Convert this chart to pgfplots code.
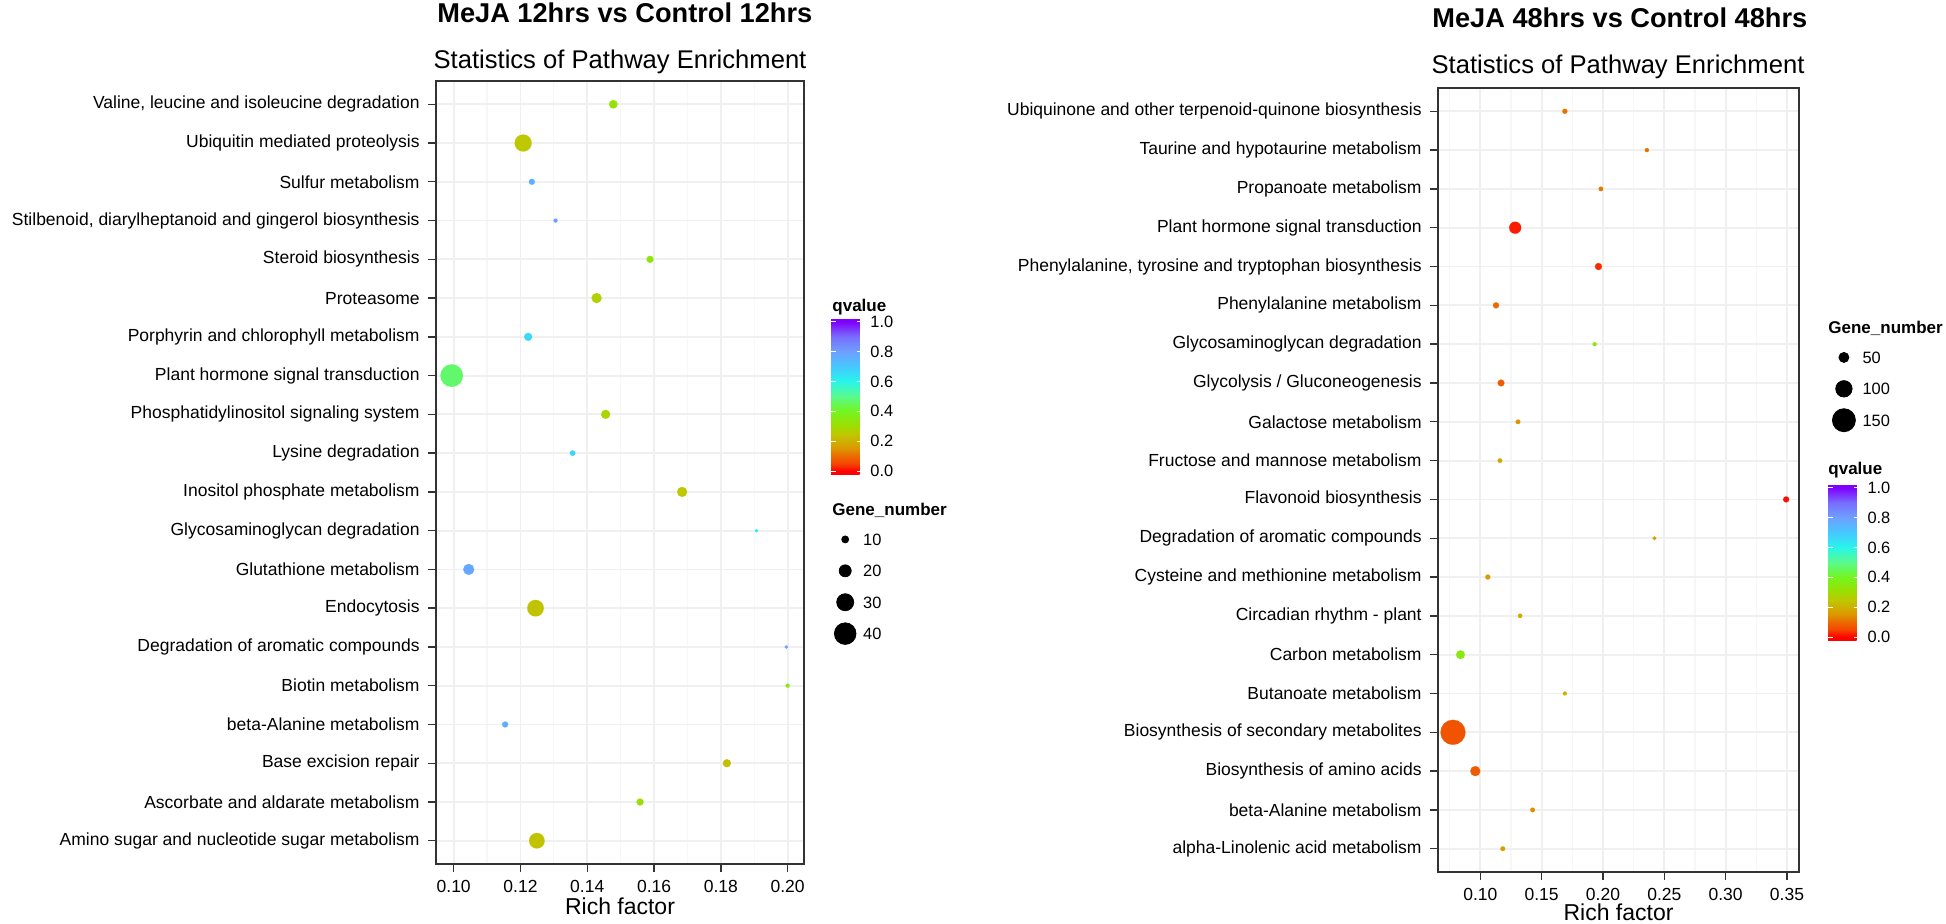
\documentclass[border=0pt]{standalone}
\usepackage{fontspec}
\setmainfont{Liberation Sans}
\usepackage{pgfplots}
\usepackage{pgfplotstable}
\pgfplotsset{compat=1.18}

% positions are qvalue*1000+20, so that the bar runs a little past 0 and 1
\pgfplotsset{
  colormap={qv}{rgb255(0pt)=(255,0,0) rgb255(20pt)=(255,0,0) rgb255(70pt)=(245,70,0)
    rgb255(120pt)=(235,105,0) rgb255(170pt)=(220,150,0) rgb255(220pt)=(205,175,0)
    rgb255(270pt)=(190,200,0) rgb255(320pt)=(160,220,0) rgb255(420pt)=(115,245,30)
    rgb255(520pt)=(90,250,140) rgb255(620pt)=(40,245,235) rgb255(720pt)=(70,200,255)
    rgb255(820pt)=(110,160,255) rgb255(920pt)=(120,110,255) rgb255(1020pt)=(128,0,255)
    rgb255(1045pt)=(128,0,255)},
  kegg/.style={
    scale only axis, anchor=south west, y dir=reverse,
    ymin=-0.6, ymax=19.6, ytick={0,...,19},
    axis line style={draw=black!80, line width=0.8pt},
    tick align=outside, major tick length=4pt, minor tick length=0pt,
    tick style={black!80, line width=0.7pt},
    xtick pos=bottom, ytick pos=left,
    xmajorgrids, ymajorgrids, xminorgrids,
    major grid style={black!6, line width=0.9pt},
    minor grid style={black!3, line width=0.6pt},
    ticklabel style={font=\fontsize{8.75}{10}\selectfont, black},
    yticklabel style={inner sep=0pt, xshift=-4pt},
    xticklabel style={inner sep=0pt, yshift=-4pt},
    xlabel={Rich factor},
    xlabel style={font=\fontsize{11.5}{13}\selectfont, at={(axis description cs:0.5,0)}, anchor=base},
    colormap name=qv, point meta min=-0.02, point meta max=1.025,
    colorbar,
    colorbar style={
      at={(parent axis.north east)}, anchor=north west,
      scale only axis, width=15.5pt, height=78pt, y dir=normal,
      axis line style={draw=none}, xmajorgrids=false, ymajorgrids=false, xminorgrids=false,
      xtick=\empty, minor xtick={}, ytick={0,0.2,0.4,0.6,0.8,1},
      yticklabels={0.0,0.2,0.4,0.6,0.8,1.0},
      ytick pos=both, yticklabel pos=right, tick align=inside,
      major tick length=2.5pt, tick style={white, line width=0.5pt},
      yticklabel style={font=\fontsize{8.2}{9}\selectfont, inner sep=0pt, xshift=4pt, anchor=west},
      xlabel={},
    },
    legend cell align=left,
    legend style={draw=none, fill=none, inner sep=0pt, at={(1,1)}, anchor=north west,
      row sep=3.7pt, column sep=3.6pt, font=\fontsize{8.2}{9}\selectfont,
      nodes={inner sep=0pt, text height=6pt, text depth=0pt, minimum height=12pt},
      cells={anchor=west}},
  },
  dots/.style={scatter, only marks, mark=*, forget plot, scatter src=explicit,
    mark options={line width=0.05pt},
    scatter/use mapped color={draw=mapped color, fill=mapped color},
    visualization depends on={\thisrow{n} \as \gn}},
}

% row 0 is the top category
\pgfplotstableread{
row rf q n
0 0.1478 0.32 13
1 0.1208 0.25 30
2 0.1234 0.76 8
3 0.1305 0.80 4
4 0.1588 0.34 10
5 0.1428 0.27 16
6 0.1223 0.66 12
7 0.0994 0.47 41
8 0.1455 0.28 14
9 0.1356 0.67 7
10 0.1684 0.25 16
11 0.1907 0.62 3
12 0.1045 0.78 18
13 0.1245 0.24 29
14 0.1996 0.80 3
15 0.2000 0.35 4
16 0.1154 0.77 8
17 0.1818 0.23 12
18 0.1558 0.31 10
19 0.1249 0.24 27
}\leftdata

\pgfplotstableread{
row rf q n
0 0.1689 0.11 12
1 0.2358 0.11 5
2 0.1983 0.12 8
3 0.1284 0.02 65
4 0.1963 0.03 27
5 0.1128 0.10 20
6 0.1932 0.34 4
7 0.1169 0.08 25
8 0.1307 0.15 9
9 0.1160 0.19 9
10 0.3493 0.01 19
11 0.2419 0.17 2
12 0.1061 0.16 12
13 0.1324 0.19 7
14 0.0838 0.35 40
15 0.1689 0.21 4
16 0.0777 0.07 165
17 0.0959 0.08 50
18 0.1426 0.14 9
19 0.1183 0.17 10
}\rightdata

\begin{document}
\begin{tikzpicture}
\useasboundingbox (0,0) rectangle (973pt,461.5pt);

\begin{axis}[kegg,
  at={(218pt,29.5pt)}, width=184pt, height=391.5pt,
  xmin=0.0947, xmax=0.2049,
  xtick={0.10,0.12,0.14,0.16,0.18,0.20},
  xticklabels={0.10,0.12,0.14,0.16,0.18,0.20},
  minor xtick={0.11,0.13,0.15,0.17,0.19},
  xlabel style={yshift=-25pt},
  yticklabels={{Valine, leucine and isoleucine degradation},
    {Ubiquitin mediated proteolysis}, {Sulfur metabolism},
    {Stilbenoid, diarylheptanoid and gingerol biosynthesis},
    {Steroid biosynthesis}, {Proteasome}, {Porphyrin and chlorophyll metabolism},
    {Plant hormone signal transduction}, {Phosphatidylinositol signaling system},
    {Lysine degradation}, {Inositol phosphate metabolism},
    {Glycosaminoglycan degradation}, {Glutathione metabolism}, {Endocytosis},
    {Degradation of aromatic compounds}, {Biotin metabolism},
    {beta-Alanine metabolism}, {Base excision repair},
    {Ascorbate and aldarate metabolism}, {Amino sugar and nucleotide sugar metabolism}},
  colorbar style={xshift=5pt, yshift=-118.5pt},
  legend style={xshift=15pt, yshift=-223pt},
]
\addplot[dots, scatter/@pre marker code/.append style={/tikz/mark size={(0.5+0.125*\gn)*1pt}}]
  table[x=rf, y=row, meta=q] {\leftdata};
\addlegendimage{only marks, mark=*, black, mark size=1.75pt}
\addlegendentry{10}
\addlegendimage{only marks, mark=*, black, mark size=3pt}
\addlegendentry{20}
\addlegendimage{only marks, mark=*, black, mark size=4.25pt}
\addlegendentry{30}
\addlegendimage{only marks, mark=*, black, mark size=5.4pt}
\addlegendentry{40}
\end{axis}

\begin{axis}[kegg,
  at={(719pt,25.5pt)}, width=180.5pt, height=392pt,
  xmin=0.0655, xmax=0.3598,
  xtick={0.10,0.15,0.20,0.25,0.30,0.35},
  xticklabels={0.10,0.15,0.20,0.25,0.30,0.35},
  minor xtick={0.075,0.125,0.175,0.225,0.275,0.325},
  xlabel style={yshift=-24pt},
  yticklabels={{Ubiquinone and other terpenoid-quinone biosynthesis},
    {Taurine and hypotaurine metabolism}, {Propanoate metabolism},
    {Plant hormone signal transduction},
    {Phenylalanine, tyrosine and tryptophan biosynthesis},
    {Phenylalanine metabolism}, {Glycosaminoglycan degradation},
    {Glycolysis / Gluconeogenesis}, {Galactose metabolism},
    {Fructose and mannose metabolism}, {Flavonoid biosynthesis},
    {Degradation of aromatic compounds}, {Cysteine and methionine metabolism},
    {Circadian rhythm - plant}, {Carbon metabolism}, {Butanoate metabolism},
    {Biosynthesis of secondary metabolites}, {Biosynthesis of amino acids},
    {beta-Alanine metabolism}, {alpha-Linolenic acid metabolism}},
  colorbar style={xshift=6pt, yshift=-198pt},
  legend style={xshift=16.5pt, yshift=-128.5pt},
]
\addplot[dots, scatter/@pre marker code/.append style={/tikz/mark size={(0.875+0.0325*\gn)*1pt}}]
  table[x=rf, y=row, meta=q] {\rightdata};
\addlegendimage{only marks, mark=*, black, mark size=2.5pt}
\addlegendentry{50}
\addlegendimage{only marks, mark=*, black, mark size=4.1pt}
\addlegendentry{100}
\addlegendimage{only marks, mark=*, black, mark size=5.75pt}
\addlegendentry{150}
\end{axis}

\begin{scope}[every node/.style={inner sep=0pt}]
\node[anchor=base west, font=\bfseries\fontsize{13.6}{16}\selectfont] at (218.5pt,450pt) {MeJA 12hrs vs Control 12hrs};
\node[anchor=base, font=\fontsize{12.8}{15}\selectfont] at (310pt,427.4pt) {Statistics of Pathway Enrichment};
\node[anchor=base west, font=\bfseries\fontsize{13.6}{16}\selectfont] at (716pt,447.5pt) {MeJA 48hrs vs Control 48hrs};
\node[anchor=base, font=\fontsize{12.8}{15}\selectfont] at (809pt,424.5pt) {Statistics of Pathway Enrichment};
\node[anchor=base west, font=\bfseries\fontsize{8.5}{10}\selectfont] at (416pt,306pt) {qvalue};
\node[anchor=base west, font=\bfseries\fontsize{8.5}{10}\selectfont] at (416pt,203.8pt) {Gene\_number};
\node[anchor=base west, font=\bfseries\fontsize{8.5}{10}\selectfont] at (914pt,294.8pt) {Gene\_number};
\node[anchor=base west, font=\bfseries\fontsize{8.5}{10}\selectfont] at (914pt,224.3pt) {qvalue};
\end{scope}
\end{tikzpicture}
\end{document}
